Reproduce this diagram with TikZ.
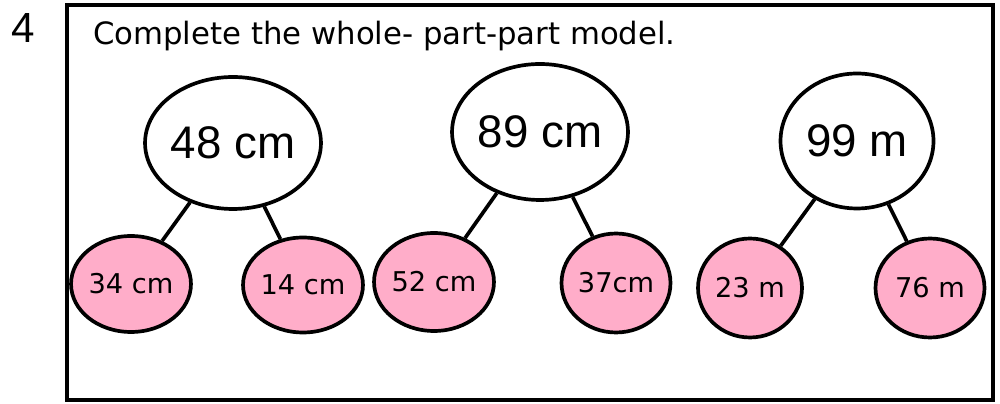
\documentclass[tikz,border=0pt]{standalone}
\usepackage{fontspec}
\setmainfont{DejaVu Sans}
\newfontfamily\arialfont{Liberation Sans}
\usetikzlibrary{shapes.geometric, positioning}
\definecolor{partpink}{RGB}{255,173,201}

\begin{document}
\begin{tikzpicture}[
    x=0.02cm, y=-0.02cm,
    every node/.style={align=center},
    whole/.style={draw, ellipse, line width=2.1pt, fill=white, inner sep=0pt, font=\arialfont\fontsize{26}{28}\selectfont},
    part/.style={draw, ellipse, line width=2.1pt, fill=partpink, inner sep=0pt, font=\fontsize{15.5}{17}\selectfont},
    branch/.style={line width=2.1pt}
]

    % Page size (fixes the margins)
    \fill[white] (0,0) rectangle (1000,404);
    \useasboundingbox (0,0) rectangle (1000,404);

    % Question number and frame
    \node[anchor=base, font=\arialfont\fontsize{24}{26}\selectfont] (qnum) at (23,43) {4};
    \draw[line width=2.6pt] (67,5) rectangle (993,400);

    % Instruction
    \node[anchor=base west, font=\fontsize{17.5}{20}\selectfont] (title) at (87,45) {Complete the whole- part-part model.};

    % Wholes
    \node[whole, minimum width=2.92cm, minimum height=2.64cm] (whole1) at (233,143) {48 cm};
    \node[whole, minimum width=3.12cm, minimum height=2.72cm] (whole2) at (540,132) {89 cm};
    \node[whole, minimum width=3.06cm, minimum height=2.70cm] (whole3) at (857,141) {99 m};

    % Parts
    \node[part, minimum width=1.98cm, minimum height=1.92cm] (part1a) at (131,284) {34 cm};
    \node[part, minimum width=2.06cm, minimum height=1.90cm] (part1b) at (303,285) {14 cm};
    \node[part, minimum width=2.08cm, minimum height=1.96cm] (part2a) at (434,282) {52 cm};
    \node[part, minimum width=2.18cm, minimum height=1.98cm] (part2b) at (616,283) {37cm};
    \node[part, minimum width=2.08cm, minimum height=1.98cm] (part3a) at (750,288) {23 m};
    \node[part, minimum width=2.18cm, minimum height=1.98cm] (part3b) at (930,288) {76 m};

    % Branches
    \draw[branch] (whole1) -- (part1a);
    \draw[branch] (whole1) -- (part1b);
    \draw[branch] (whole2) -- (part2a);
    \draw[branch] (whole2) -- (part2b);
    \draw[branch] (whole3) -- (part3a);
    \draw[branch] (whole3) -- (part3b);

\end{tikzpicture}
\end{document}
